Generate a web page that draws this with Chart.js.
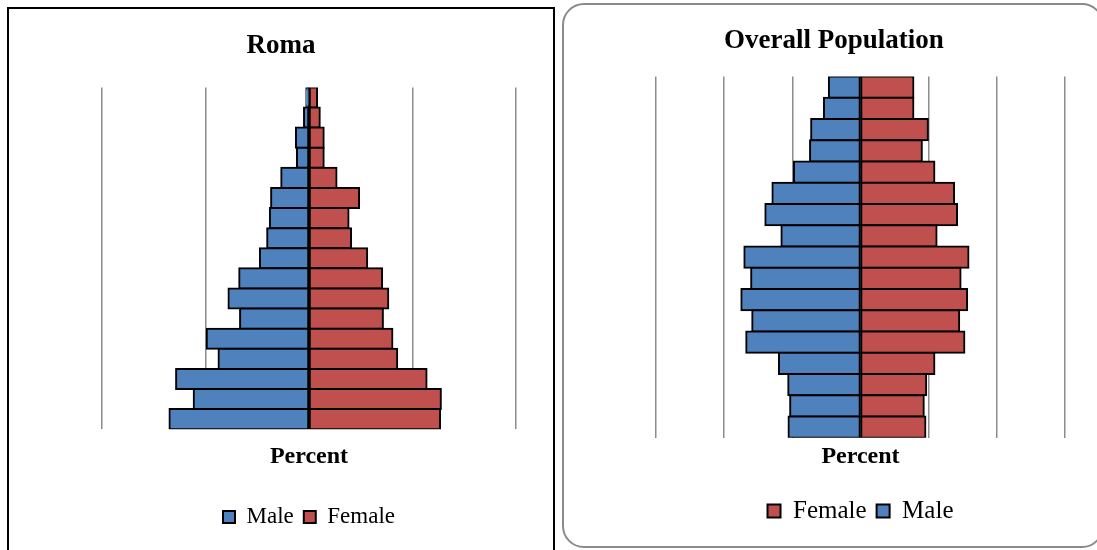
<!DOCTYPE html>
<html>
<head>
<meta charset="utf-8">
<script src="https://cdn.jsdelivr.net/npm/chart.js@4/dist/chart.umd.min.js"></script>
<style>
  html, body { margin: 0; padding: 0; background: #fff; overflow: hidden; }
  body { width: 1097px; height: 550px; position: relative; }
  .panel { position: absolute; box-sizing: border-box; }
  #roma-frame { left: 7px; top: 7px; width: 548px; height: 560px; border: 2.5px solid #000; }
  #overall-frame { left: 562px; top: 3px; width: 542px; height: 545px; border: 2px solid #8a8a8a; border-radius: 22px; }
  canvas { position: absolute; top: 0; }
  #romaChart { left: 0; }
  #overallChart { left: 600px; }
</style>
</head>
<body>
<div class="panel" id="roma-frame"></div>
<div class="panel" id="overall-frame"></div>
<canvas id="romaChart" width="562" height="550"></canvas>
<canvas id="overallChart" width="468" height="550"></canvas>
<script>
// age groups, oldest at the top
const ageGroups = ["80+", "75-79", "70-74", "65-69", "60-64", "55-59", "50-54", "45-49", "40-44",
                   "35-39", "30-34", "25-29", "20-24", "15-19", "10-14", "5-9", "0-4"];

// Roma (% of population)
const romaMale   = [0.13, 0.24, 0.63, 0.58, 1.34, 1.83, 1.89, 2.02, 2.37, 3.37, 3.89, 3.33, 4.94, 4.37, 6.42, 5.57, 6.74];
const romaFemale = [0.39, 0.52, 0.71, 0.71, 1.33, 2.42, 1.91, 2.03, 2.81, 3.53, 3.83, 3.57, 4.03, 4.26, 5.68, 6.37, 6.33];

// Overall population (% of population)
const overallMale   = [1.16, 1.34, 1.81, 1.85, 2.44, 3.23, 3.49, 2.90, 4.26, 4.01, 4.37, 3.97, 4.19, 2.99, 2.65, 2.58, 2.64];
const overallFemale = [1.94, 1.94, 2.47, 2.25, 2.71, 3.43, 3.54, 2.79, 3.96, 3.67, 3.91, 3.62, 3.81, 2.71, 2.41, 2.32, 2.38];

const COLORS = { male: '#4F81BD', female: '#C0504D' };
const SERIF = "'Liberation Serif', 'Times New Roman', serif";

Chart.defaults.font.family = SERIF;
Chart.defaults.color = '#000';

// inflateAmount 1 + borderWidth 2 puts the outline centred on the bar edge,
// so neighbouring bars share one 2px line like the original
const barStyle = {
    borderColor: '#000',
    borderWidth: 2,
    borderSkipped: false,
    inflateAmount: 1
};

const maleSet = (vals) => ({
    label: 'Male',
    data: vals.map(v => -v), // males drawn to the left
    backgroundColor: COLORS.male,
    ...barStyle
});
const femaleSet = (vals) => ({
    label: 'Female',
    data: vals,
    backgroundColor: COLORS.female,
    ...barStyle
});

/**
 * Builds one pyramid. Side axis widths are forced with afterFit so the
 * plot sits where it does in the original while the title stays centred on the canvas.
 */
function makePyramid(id, cfg) {
    return new Chart(document.getElementById(id), {
        type: 'bar',
        data: { labels: ageGroups, datasets: cfg.datasets },
        options: {
            indexAxis: 'y',
            responsive: false,
            animation: false,
            layout: { padding: { bottom: cfg.padBottom } },
            datasets: { bar: { categoryPercentage: 1, barPercentage: 1 } },
            scales: {
                x: {
                    stacked: true,
                    min: -cfg.max, max: cfg.max,
                    ticks: { display: false, stepSize: cfg.step },
                    grid: { color: '#8c8c8c', lineWidth: 1.5, drawTicks: false },
                    border: { display: false },
                    title: {
                        display: true, text: 'Percent',
                        font: { size: 24, weight: 'bold' },
                        padding: { top: cfg.axisPadTop, bottom: cfg.axisPadBottom }
                    }
                },
                y: {
                    stacked: true,
                    ticks: { display: false },
                    grid: { display: false },
                    border: { display: false },
                    afterFit: s => { s.width = cfg.leftW; }
                },
                y2: {
                    type: 'linear', position: 'right', display: true,
                    ticks: { display: false },
                    grid: { display: false },
                    border: { display: false },
                    afterFit: s => { s.width = cfg.rightW; }
                }
            },
            plugins: {
                title: {
                    display: true, text: cfg.title,
                    font: { size: cfg.titleSize, weight: 'bold' },
                    padding: { top: cfg.titlePadTop, bottom: cfg.titlePadBottom }
                },
                legend: {
                    position: 'bottom',
                    fullSize: false,
                    labels: {
                        boxWidth: cfg.box, boxHeight: cfg.box,
                        padding: 10,
                        font: { size: cfg.legendSize }
                    }
                },
                tooltip: { enabled: false }
            }
        }
    });
}

makePyramid('romaChart', {
    title: 'Roma',
    datasets: [maleSet(romaMale), femaleSet(romaFemale)],
    max: 10, step: 5,
    leftW: 102, rightW: 46,
    titleSize: 27, titlePadTop: 29.5, titlePadBottom: 25.5,
    axisPadTop: 13, axisPadBottom: 24.5,
    legendSize: 23, box: 12,
    padBottom: 11.5
});

makePyramid('overallChart', {
    title: 'Overall Population',
    datasets: [femaleSet(overallFemale), maleSet(overallMale)],
    max: 7.5, step: 2.5,
    leftW: 56, rightW: 3,
    titleSize: 27, titlePadTop: 24.5, titlePadBottom: 19.5,
    axisPadTop: 5, axisPadBottom: 17,
    legendSize: 25, box: 13,
    padBottom: 16.5
});
</script>
</body>
</html>
